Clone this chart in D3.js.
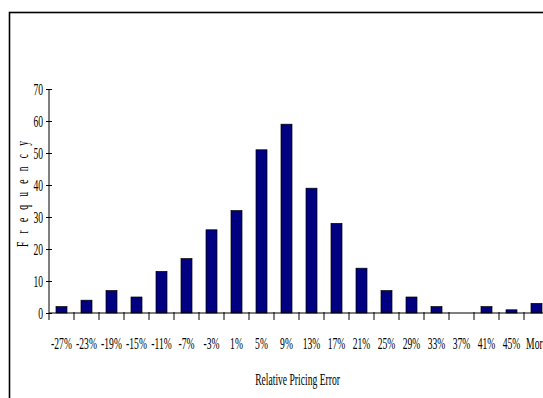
<!DOCTYPE html>
<html>
<head>
<meta charset="utf-8">
<script src="https://cdn.jsdelivr.net/npm/d3@7"></script>
<style>
  html, body { margin: 0; padding: 0; background: #fff; }
  svg { display: block; }
  text { font-family: "Liberation Serif", "Times New Roman", serif; fill: #000; }
</style>
</head>
<body>
<script>
// Histogram of relative pricing errors
const categories = ["-27%", "-23%", "-19%", "-15%", "-11%", "-7%", "-3%", "1%", "5%", "9%",
                    "13%", "17%", "21%", "25%", "29%", "33%", "37%", "41%", "45%", "More"];
const frequency = [2, 4, 7, 5, 13, 17, 26, 32, 51, 59, 39, 28, 14, 7, 5, 2, 0, 2, 1, 3];
const yTicks = [0, 10, 20, 30, 40, 50, 60, 70];
const xTitle = "Relative Pricing Error";
const yTitle = "Frequency";

const W = 543, H = 398;
const squeeze = 0.6;      // narrow serif look
const fontSize = 16;

const svg = d3.select("body").append("svg")
  .attr("width", W).attr("height", H);

// outer chart frame
svg.append("rect")
  .attr("x", 9.5).attr("y", 12.5)
  .attr("width", 600).attr("height", 500)
  .attr("fill", "none").attr("stroke", "#000").attr("stroke-width", 1.6);

const x0 = 49, plotW = 500, yTop = 89, yBase = 313;

const x = d3.scaleBand()
  .domain(categories)
  .range([x0, x0 + plotW])
  .paddingInner(0.56)
  .paddingOuter(0.28);

const y = d3.scaleLinear()
  .domain([0, 70])
  .range([yBase, yTop]);

// bars
svg.append("g").selectAll("rect")
  .data(categories.map((c, i) => ({ c, v: frequency[i] })))
  .join("rect")
  .attr("x", d => x(d.c))
  .attr("width", x.bandwidth())
  .attr("y", d => y(d.v))
  .attr("height", d => y(0) - y(d.v))
  .attr("fill", "#000080")
  .attr("stroke", "#000")
  .attr("stroke-width", d => d.v > 0 ? 0.7 : 0);

// y axis
const yAxis = svg.append("g")
  .attr("transform", `translate(${x0},0)`)
  .call(d3.axisLeft(y).tickValues(yTicks).tickSize(0).tickPadding(0));
yAxis.select(".domain").remove();
yAxis.selectAll(".tick line").attr("x1", -3).attr("x2", 3).attr("stroke", "#000");
yAxis.selectAll(".tick text")
  .attr("x", -6 / squeeze)
  .attr("transform", `scale(${squeeze},1)`)
  .attr("font-size", fontSize)
  .attr("font-family", "Liberation Serif");
yAxis.append("line")
  .attr("x1", 0).attr("x2", 0)
  .attr("y1", y(70)).attr("y2", yBase + 7)
  .attr("stroke", "#000");

// x axis
const xAxis = svg.append("g")
  .attr("transform", `translate(0,${yBase})`)
  .call(d3.axisBottom(x).tickSize(0).tickPadding(0));
xAxis.select(".domain").remove();
xAxis.selectAll(".tick line").remove();
xAxis.selectAll(".tick text")
  .attr("y", 36).attr("dy", 0)
  .attr("transform", `scale(${squeeze},1)`)
  .attr("font-size", fontSize)
  .attr("font-family", "Liberation Serif");
xAxis.append("line")
  .attr("x1", x0).attr("x2", x0 + plotW)
  .attr("y1", 0).attr("y2", 0)
  .attr("stroke", "#000");
// tick marks sit between the categories
xAxis.selectAll(".sep")
  .data(d3.range(1, categories.length + 1))
  .join("line")
  .attr("class", "sep")
  .attr("x1", i => x0 + i * x.step()).attr("x2", i => x0 + i * x.step())
  .attr("y1", -1).attr("y2", 7)
  .attr("stroke", "#000");

// axis titles
svg.append("text")
  .attr("transform", `translate(${x0 + plotW / 2 - 1.5},385) scale(${squeeze},1)`)
  .attr("text-anchor", "middle")
  .attr("font-size", fontSize)
  .text(xTitle);

svg.append("text")
  .attr("transform", `translate(28,194) rotate(-90) scale(${squeeze},1)`)
  .attr("text-anchor", "middle")
  .attr("font-size", fontSize)
  .attr("textLength", 106 / squeeze)
  .attr("lengthAdjust", "spacing")
  .text(yTitle);
</script>
</body>
</html>
